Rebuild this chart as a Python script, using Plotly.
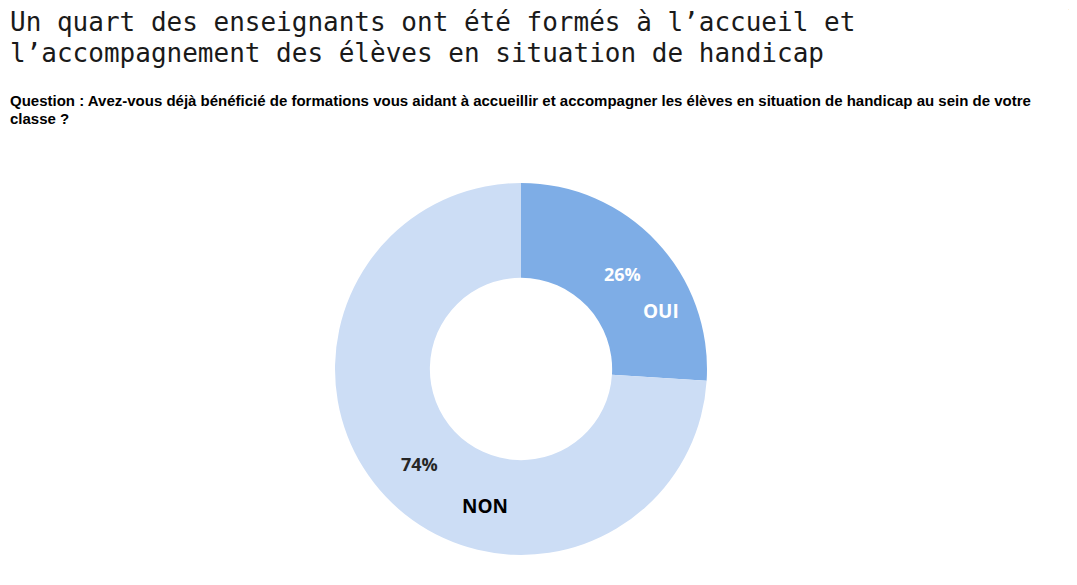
import math
import plotly.graph_objects as go

labels = ["OUI", "NON"]
values = [26, 74]
colors = ["#7EADE6", "#CCDDF5"]
pct_colors = ["#FFFFFF", "#262626"]
lab_colors = ["#FFFFFF", "#000000"]

title_lines = ["Un quart des enseignants ont été formés à l’accueil et",
               "l’accompagnement des élèves en situation de handicap"]
question = ["Question : Avez-vous déjà bénéficié de formations vous aidant à accueillir et "
            "accompagner les élèves en situation de handicap au sein de votre",
            "classe ?"]

# page has an 8px body margin: positions below are reference pixels minus 8
OFF = 8
W, H = 1077, 585
cx, cy, R = 521 - OFF, 369 - OFF, 186
hole = 0.49

fig = go.Figure(go.Pie(
    labels=labels, values=values, hole=hole, sort=False,
    direction="clockwise", rotation=0,
    marker=dict(colors=colors, line=dict(width=0)),
    textinfo="none", hoverinfo="label+percent", showlegend=False,
    domain=dict(x=[(cx - R) / W, (cx + R) / W], y=[1 - (cy + R) / H, 1 - (cy - R) / H]),
))

def px2paper(x, y):
    return x / W, 1 - y / H

annotations = []
total = sum(values)
cum = 0
offsets = [(39, 37), (65, 42)]
rmid = R * (1 + hole) / 2
for i, v in enumerate(values):
    mid = (cum + v / 2) / total * 2 * math.pi
    cum += v
    px = cx + rmid * math.sin(mid)
    py = cy - rmid * math.cos(mid)
    x, y = px2paper(px, py)
    annotations.append(dict(x=x, y=y, xref="paper", yref="paper",
                            xanchor="center", yanchor="middle",
                            text=f"<b>{round(v / total * 100)}%</b>", showarrow=False,
                            font=dict(family="Open Sans", size=18, color=pct_colors[i])))
    ox, oy = offsets[i]
    x, y = px2paper(px + ox, py + oy)
    annotations.append(dict(x=x, y=y, xref="paper", yref="paper",
                            xanchor="center", yanchor="middle",
                            text=f"<b>{labels[i]}</b>", showarrow=False,
                            font=dict(family="Open Sans", size=19, color=lab_colors[i])))

for j, line in enumerate(title_lines):
    x, y = px2paper(8 - OFF, -3 + 31 * j)
    annotations.append(dict(x=x, y=y, xref="paper", yref="paper",
                            xanchor="left", yanchor="top", text=line, showarrow=False,
                            font=dict(family="DejaVu Sans Mono", size=26, color="#1a1a1a")))

for j, line in enumerate(question):
    x, y = px2paper(8 - OFF, 100 + 18 * j - OFF)
    annotations.append(dict(x=x, y=y, xref="paper", yref="paper",
                            xanchor="left", yanchor="middle", text="<b>" + line + "</b>",
                            showarrow=False,
                            font=dict(family="Liberation Sans, Arial", size=15, color="#000000")))

x, y = px2paper(1058, 6)
annotations.append(dict(x=x, y=y, xref="paper", yref="paper",
                        xanchor="left", yanchor="middle", text="7", showarrow=False,
                        font=dict(family="DejaVu Sans", size=11, color="#BBBBBB")))

fig.update_layout(width=W, height=H, margin=dict(l=0, r=0, t=0, b=0),
                  paper_bgcolor="white", plot_bgcolor="white", annotations=annotations)
fig.write_html("out.html")
